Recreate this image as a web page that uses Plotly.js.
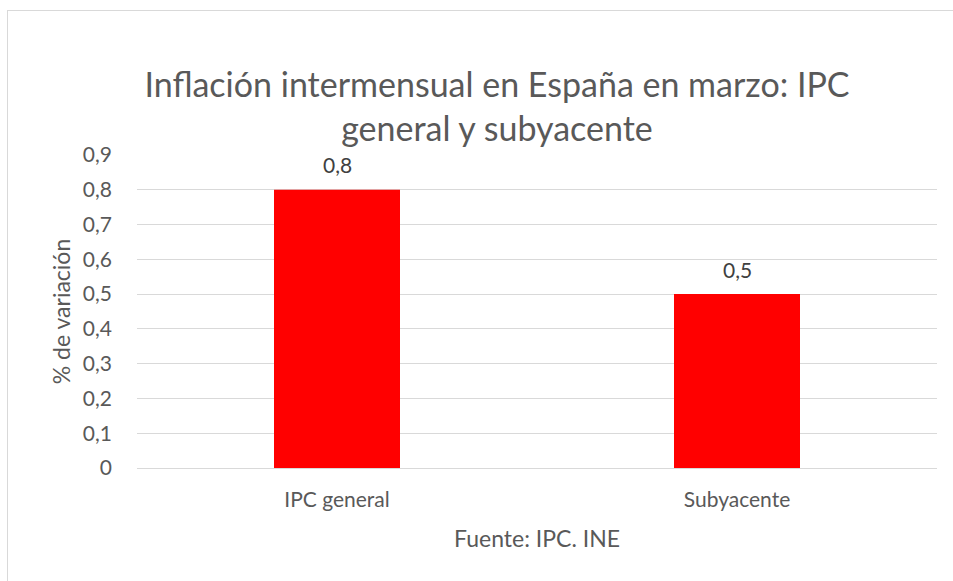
<!DOCTYPE html>
<html>
<head>
<meta charset="utf-8">
<script src="https://cdn.plot.ly/plotly-3.0.1.min.js"></script>
<style>
  html, body { margin: 0; padding: 0; background: #fff; }
  #wrap { position: relative; width: 953px; height: 581px; overflow: hidden; }
  #chart { width: 953px; height: 581px; }
  #frame { position: absolute; left: 7px; top: 10px; width: 960px; height: 600px;
           border-left: 1.5px solid #d9d9d9; border-top: 1.5px solid #d9d9d9; pointer-events: none; }
</style>
</head>
<body>
<div id="wrap">
  <div id="chart"></div>
  <div id="frame"></div>
</div>
<script>
const categories = ["IPC general", "Subyacente"];
const values = [0.8, 0.5];
const valueLabels = ["0,8", "0,5"];
const yTickVals = [0, 0.1, 0.2, 0.3, 0.4, 0.5, 0.6, 0.7, 0.8, 0.9];
const yTickText = ["0", "0,1", "0,2", "0,3", "0,4", "0,5", "0,6", "0,7", "0,8", "0,9"];

const FONT = "Lato, Noto Sans, sans-serif";
const GREY = "#595959";

const trace = {
  type: "bar",
  x: categories,
  y: values,
  marker: { color: "#ff0000" },
  width: 0.315,
  hoverinfo: "x+y"
};

const labelAnnotations = categories.map((c, i) => ({
  x: c, y: values[i], xref: "x", yref: "y",
  text: valueLabels[i], showarrow: false,
  yanchor: "middle", yshift: 25,
  font: { family: FONT, size: 21, color: "#404040" }
}));

const layout = {
  width: 953,
  height: 581,
  margin: { l: 137, r: 16, t: 155, b: 113 },
  paper_bgcolor: "#ffffff",
  plot_bgcolor: "#ffffff",
  showlegend: false,
  title: {
    text: "Inflación intermensual en España en marzo: IPC<br>general y subyacente",
    font: { family: FONT, size: 34, color: GREY },
    x: 0.45, xref: "paper", xanchor: "center",
    y: 0.833, yref: "container", yanchor: "middle"
  },
  xaxis: {
    type: "category",
    showgrid: false,
    showline: false,
    zeroline: false,
    ticks: "",
    ticklabelstandoff: 17,
    tickfont: { family: FONT, size: 21, color: GREY },
    title: { text: "Fuente: IPC. INE", font: { family: FONT, size: 23, color: GREY }, standoff: 20 },
    automargin: false
  },
  yaxis: {
    range: [0, 0.9],
    tickvals: yTickVals,
    ticktext: yTickText,
    showgrid: true,
    gridcolor: "#d9d9d9",
    gridwidth: 1,
    zeroline: true,
    zerolinecolor: "#d9d9d9",
    zerolinewidth: 1,
    showline: false,
    ticks: "",
    ticklabelstandoff: 24,
    tickfont: { family: FONT, size: 21, color: GREY },
    title: { text: "% de variación", font: { family: FONT, size: 23, color: GREY }, standoff: 5 },
    automargin: false
  },
  annotations: labelAnnotations,
  bargap: 0.685
};

Plotly.newPlot("chart", [trace], layout, { displayModeBar: false, responsive: false });
</script>
</body>
</html>
